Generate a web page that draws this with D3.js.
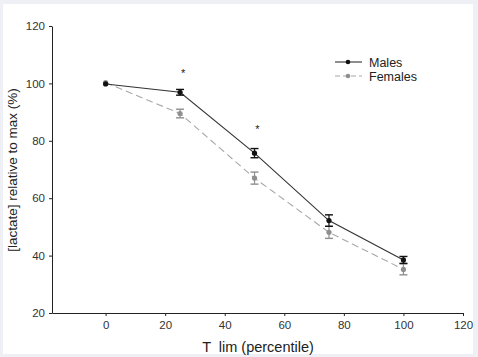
<!DOCTYPE html>
<html><head><meta charset="utf-8">
<script src="https://cdn.jsdelivr.net/npm/d3@7"></script>
<style>
html,body{margin:0;padding:0;background:#eef0f5;}
svg{display:block;}
</style></head>
<body>
<svg id="c" width="478" height="357"></svg>
<script>
const xValues = [0, 25, 50, 75, 100];
const malesMean = [99.8, 96.9, 75.7, 52.2, 38.5];
const malesErr = [0.4, 1.0, 1.6, 2.0, 1.2];
const femalesMean = [100.3, 89.5, 67.0, 48.1, 35.2];
const femalesErr = [0.4, 1.5, 2.1, 2.1, 1.9];
const sigPoints = [[26, 104], [51, 84.5]];
const xTicks = [0, 20, 40, 60, 80, 100, 120];
const yTicks = [20, 40, 60, 80, 100, 120];
const seriesNames = ["Males", "Females"];

const svg = d3.select("#c");
svg.append("rect").attr("x",3).attr("y",4).attr("width",470).attr("height",350).attr("fill","#fff");

const x = d3.scaleLinear().domain([-18, 120]).range([52, 463]);
const y = d3.scaleLinear().domain([20, 120]).range([313, 26]);
const font = "Liberation Sans, Arial, sans-serif";

const xAxis = svg.append("g").attr("transform","translate(0,313)")
  .call(d3.axisBottom(x).tickValues(xTicks).tickSize(3).tickSizeOuter(0).tickPadding(5));
const yAxis = svg.append("g").attr("transform","translate(52,0)")
  .call(d3.axisLeft(y).tickValues(yTicks).tickSize(3).tickSizeOuter(0).tickPadding(4));
[xAxis, yAxis].forEach(g => {
  g.select(".domain").attr("stroke","#222").attr("stroke-width",1);
  g.selectAll(".tick line").attr("stroke","#222");
  g.selectAll(".tick text").attr("fill","#333").style("font-family",font).style("font-size","11.5px");
});

svg.append("text").attr("x",258).attr("y",352).attr("text-anchor","middle")
  .style("font-family",font).style("font-size","14.5px").style("white-space","pre").attr("fill","#222")
  .text("T  lim (percentile)");
svg.append("text").attr("transform","translate(17,170) rotate(-90)").attr("text-anchor","middle")
  .style("font-family",font).style("font-size","13.5px").attr("fill","#222")
  .text("[lactate] relative to max (%)");

function drawSeries(mean, err, color, dash, lineColor) {
  const pts = xValues.map((v,i)=>({x:v, m:mean[i], e:err[i]}));
  svg.append("path").datum(pts)
    .attr("d", d3.line().x(d=>x(d.x)).y(d=>y(d.m)))
    .attr("fill","none").attr("stroke",lineColor).attr("stroke-width",1.1)
    .attr("stroke-dasharray", dash);
  const g = svg.append("g");
  pts.forEach(d => {
    if (d.x === 0) return;
    const cx = x(d.x);
    g.append("line").attr("x1",cx).attr("x2",cx).attr("y1",y(d.m-d.e)).attr("y2",y(d.m+d.e)).attr("stroke",color).attr("stroke-width",1.2);
    [d.m-d.e, d.m+d.e].forEach(v => g.append("line").attr("x1",cx-4).attr("x2",cx+4).attr("y1",y(v)).attr("y2",y(v)).attr("stroke",color).attr("stroke-width",1.4));
  });
  g.selectAll("circle").data(pts).enter().append("circle")
    .attr("cx",d=>x(d.x)).attr("cy",d=>y(d.m)).attr("r",2.6).attr("fill",color);
}
drawSeries(femalesMean, femalesErr, "#8f8f8f", "7,4", "#a8a8a8");
drawSeries(malesMean, malesErr, "#111", null, "#333");

svg.selectAll(".sig").data(sigPoints).enter().append("text")
  .attr("x",d=>x(d[0])).attr("y",d=>y(d[1])+5).attr("text-anchor","middle")
  .style("font-family",font).style("font-size","11px").attr("fill","#222").text("*");

// legend
const leg = svg.append("g");
const styles = [{c:"#111", l:"#333", dash:null},{c:"#8f8f8f", l:"#a8a8a8", dash:"5,3"}];
seriesNames.forEach((name,i) => {
  const yy = 62 + i*14;
  leg.append("line").attr("x1",335).attr("x2",362).attr("y1",yy).attr("y2",yy)
    .attr("stroke",styles[i].l).attr("stroke-width",1.1).attr("stroke-dasharray",styles[i].dash);
  leg.append("circle").attr("cx",348).attr("cy",yy).attr("r",2.3).attr("fill",styles[i].c);
  leg.append("text").attr("x",369).attr("y",yy+4.5).style("font-family",font).style("font-size","12.5px")
    .attr("fill","#222").text(name);
});
</script>
</body></html>
